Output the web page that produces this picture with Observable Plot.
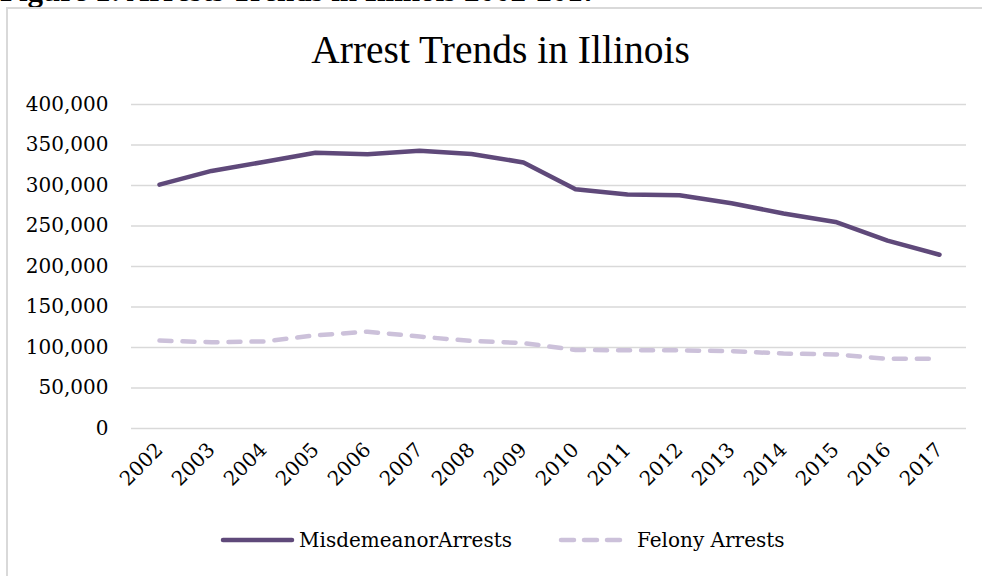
<!DOCTYPE html>
<html>
<head>
<meta charset="utf-8">
<script src="https://cdn.jsdelivr.net/npm/d3@7"></script>
<script src="https://cdn.jsdelivr.net/npm/@observablehq/plot@0.6"></script>
<style>
  html, body { margin: 0; padding: 0; background: #fff; width: 982px; height: 576px; overflow: hidden; }
  #wrap { position: relative; width: 982px; height: 576px; overflow: hidden; }
  #fig { position: absolute; left: 0; top: -27px; line-height: 1; font: bold 31px "Liberation Serif", serif; color: #000; white-space: nowrap; }
  #box { position: absolute; left: 6px; top: 7px; width: 1000px; height: 600px; border: 2px solid #d9d9d9; box-sizing: border-box; background: #fff; }
  #title { position: absolute; left: 0; width: 1001px; top: 27px; text-align: center; font: 39.5px "Liberation Serif", serif; color: #000; }
  #chart { position: absolute; left: 0; top: 0; }
  #legend { position: absolute; top: 527px; left: 0; width: 982px; font: 20px "DejaVu Serif", serif; color: #000; }
  .item { position: absolute; display: flex; align-items: center; white-space: nowrap; }
  .item svg { margin-right: 4px; }
</style>
</head>
<body>
<div id="wrap">
  <div id="fig">Figure 1: Arrests Trends in Illinois 2002-2017</div>
  <div id="box"></div>
  <div id="title">Arrest Trends in Illinois</div>
  <div id="chart"></div>
  <div id="legend"></div>
</div>
<script>
const years = ["2002","2003","2004","2005","2006","2007","2008","2009","2010","2011","2012","2013","2014","2015","2016","2017"];
const misdemeanorArrests = [301000, 318000, 329000, 340500, 338500, 343000, 339000, 328500, 295500, 289000, 288000, 278000, 265500, 255000, 232000, 214500];
const felonyArrests = [108500, 106500, 107500, 115000, 119500, 113500, 108000, 105500, 97000, 96500, 96500, 95500, 92500, 91500, 86000, 86000];
const seriesNames = ["MisdemeanorArrests", "Felony Arrests"];
const yTicks = [0, 50000, 100000, 150000, 200000, 250000, 300000, 350000, 400000];

const misColor = "#5f497a";
const felColor = "#ccc1da";

const rows = [];
years.forEach((y, i) => {
  rows.push({year: y, value: misdemeanorArrests[i], series: seriesNames[0]});
  rows.push({year: y, value: felonyArrests[i], series: seriesNames[1]});
});

const fmt = d3.format(",");

const chart = Plot.plot({
  width: 982,
  height: 480,
  marginTop: 104,
  marginBottom: 52,
  marginLeft: 131,
  marginRight: 16,
  style: {fontFamily: "'DejaVu Serif', serif", fontSize: "20px", color: "#000", background: "transparent", overflow: "visible"},
  x: {type: "point", domain: years, padding: 0.5, label: null},
  y: {domain: [0, 400000], label: null},
  marks: [
    Plot.ruleY(yTicks, {stroke: "#d9d9d9", strokeWidth: 1.5}),
    Plot.axisY(yTicks, {tickSize: 0, tickPadding: 23, tickFormat: fmt, fontSize: 20, fill: "#000"}),
    Plot.axisX(years, {tickSize: 0, tickPadding: 18, tickRotate: -45, fontSize: 20, fill: "#000"}),
    Plot.line(rows.filter(d => d.series === seriesNames[1]), {x: "year", y: "value", stroke: felColor, strokeWidth: 4.5, strokeDasharray: "12,11", strokeLinecap: "round", strokeLinejoin: "round"}),
    Plot.line(rows.filter(d => d.series === seriesNames[0]), {x: "year", y: "value", stroke: misColor, strokeWidth: 4.5, strokeLinecap: "round", strokeLinejoin: "round"})
  ]
});
document.getElementById("chart").appendChild(chart);

// legend
const legend = document.getElementById("legend");
const items = [
  {name: seriesNames[0], color: misColor, dash: null, left: 219},
  {name: seriesNames[1], color: felColor, dash: "13,10", left: 557}
];
items.forEach(it => {
  const div = document.createElement("div");
  div.className = "item";
  div.style.left = it.left + "px";
  const ns = "http://www.w3.org/2000/svg";
  const svg = document.createElementNS(ns, "svg");
  svg.setAttribute("width", 76);
  svg.setAttribute("height", 26);
  const ln = document.createElementNS(ns, "line");
  ln.setAttribute("x1", 4); ln.setAttribute("x2", it.dash ? 63 : 73);
  ln.setAttribute("y1", 13); ln.setAttribute("y2", 13);
  ln.setAttribute("stroke", it.color);
  ln.setAttribute("stroke-width", 4.5);
  ln.setAttribute("stroke-linecap", "round");
  if (it.dash) ln.setAttribute("stroke-dasharray", it.dash);
  svg.appendChild(ln);
  const span = document.createElement("span");
  span.textContent = it.name;
  div.appendChild(svg);
  div.appendChild(span);
  legend.appendChild(div);
});
</script>
</body>
</html>
